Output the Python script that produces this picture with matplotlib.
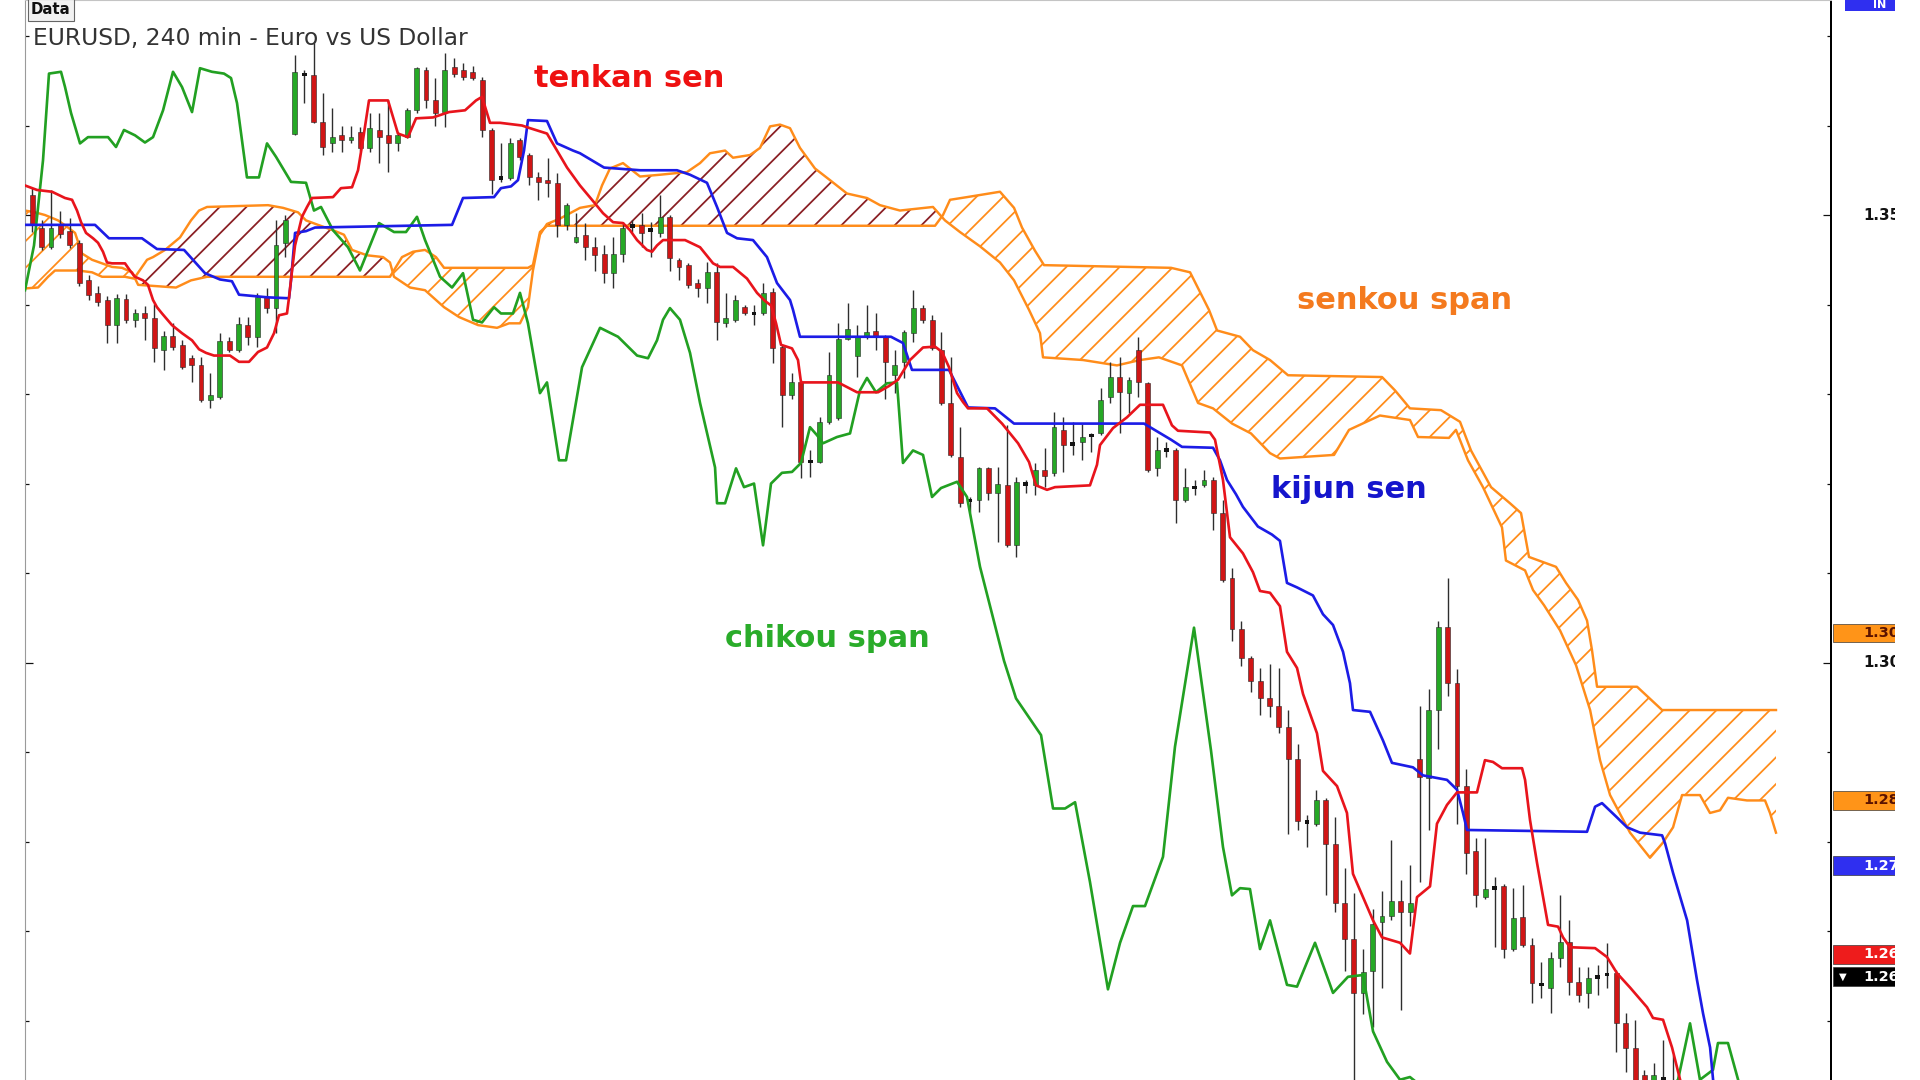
from __future__ import annotations

import matplotlib

matplotlib.use("Agg")
import matplotlib.pyplot as plt
import matplotlib.transforms as mtransforms
import numpy as np
from matplotlib.patches import Rectangle
from matplotlib.text import Text

TITLE = "EURUSD, 240 min - Euro vs US Dollar"

# candles, one per bar (bar index = position in list)
OPENS = [
    1.3522, 1.3485, 1.3464, 1.3489, 1.3482, 1.3469, 1.3427, 1.3413, 1.3405, 1.3377,
    1.3406, 1.3383, 1.3390, 1.3385, 1.3349, 1.3365, 1.3355, 1.3340, 1.3332, 1.3293,
    1.3297, 1.3359, 1.3349, 1.3377, 1.3364, 1.3408, 1.3396, 1.3469, 1.3591, 1.3658,
    1.3656, 1.3604, 1.3580, 1.3589, 1.3584, 1.3593, 1.3575, 1.3595, 1.3589, 1.3581,
    1.3587, 1.3617, 1.3662, 1.3628, 1.3615, 1.3665, 1.3662, 1.3660, 1.3651, 1.3595,
    1.3542, 1.3541, 1.3584, 1.3567, 1.3542, 1.3539, 1.3536, 1.3489, 1.3470, 1.3478,
    1.3464, 1.3457, 1.3435, 1.3457, 1.3489, 1.3489, 1.3484, 1.3480, 1.3498, 1.3450,
    1.3444, 1.3424, 1.3418, 1.3436, 1.3379, 1.3383, 1.3397, 1.3391, 1.3390, 1.3414,
    1.3352, 1.3299, 1.3313, 1.3225, 1.3224, 1.3269, 1.3273, 1.3362, 1.3343, 1.3364,
    1.3370, 1.3364, 1.3321, 1.3336, 1.3368, 1.3396, 1.3383, 1.3349, 1.3290, 1.3230,
    1.3182, 1.3182, 1.3217, 1.3189, 1.3198, 1.3131, 1.3200, 1.3198, 1.3215, 1.3212,
    1.3260, 1.3245, 1.3246, 1.3254, 1.3256, 1.3297, 1.3319, 1.3301, 1.3349, 1.3312,
    1.3217, 1.3238, 1.3237, 1.3182, 1.3196, 1.3198, 1.3204, 1.3167, 1.3094, 1.3037,
    1.3005, 1.2979, 1.2960, 1.2951, 1.2928, 1.2892, 1.2823, 1.2820, 1.2846, 1.2797,
    1.2731, 1.2691, 1.2631, 1.2656, 1.2710, 1.2717, 1.2734, 1.2721, 1.2892, 1.2871,
    1.2947, 1.3040, 1.2977, 1.2862, 1.2789, 1.2738, 1.2749, 1.2750, 1.2680, 1.2716,
    1.2684, 1.2641, 1.2636, 1.2670, 1.2688, 1.2643, 1.2631, 1.2649, 1.2652, 1.2653,
    1.2597, 1.2569, 1.2539, 1.2528, 1.2536, 1.2534,
]
HIGHS = [
    1.3530, 1.3494, 1.3528, 1.3505, 1.3497, 1.3472, 1.3433, 1.3421, 1.3409, 1.3412,
    1.3412, 1.3395, 1.3398, 1.3401, 1.3370, 1.3379, 1.3360, 1.3344, 1.3341, 1.3323,
    1.3368, 1.3364, 1.3386, 1.3386, 1.3413, 1.3418, 1.3494, 1.3500, 1.3679, 1.3662,
    1.3692, 1.3636, 1.3619, 1.3600, 1.3600, 1.3598, 1.3614, 1.3614, 1.3628, 1.3593,
    1.3620, 1.3665, 1.3665, 1.3653, 1.3681, 1.3675, 1.3670, 1.3667, 1.3654, 1.3597,
    1.3580, 1.3586, 1.3586, 1.3569, 1.3548, 1.3564, 1.3547, 1.3513, 1.3502, 1.3491,
    1.3475, 1.3466, 1.3475, 1.3492, 1.3494, 1.3502, 1.3492, 1.3522, 1.3500, 1.3452,
    1.3446, 1.3429, 1.3447, 1.3446, 1.3413, 1.3411, 1.3399, 1.3399, 1.3424, 1.3418,
    1.3355, 1.3324, 1.3316, 1.3237, 1.3274, 1.3347, 1.3379, 1.3402, 1.3377, 1.3399,
    1.3390, 1.3366, 1.3349, 1.3371, 1.3416, 1.3399, 1.3388, 1.3369, 1.3341, 1.3263,
    1.3185, 1.3219, 1.3219, 1.3218, 1.3265, 1.3207, 1.3204, 1.3223, 1.3240, 1.3280,
    1.3274, 1.3269, 1.3267, 1.3256, 1.3307, 1.3336, 1.3341, 1.3319, 1.3364, 1.3313,
    1.3252, 1.3246, 1.3240, 1.3217, 1.3204, 1.3215, 1.3207, 1.3182, 1.3106, 1.3047,
    1.3007, 1.2994, 1.2998, 1.2994, 1.2947, 1.2909, 1.2830, 1.2858, 1.2849, 1.2827,
    1.2771, 1.2743, 1.2680, 1.2725, 1.2745, 1.2802, 1.2757, 1.2774, 1.2951, 1.2970,
    1.3047, 1.3094, 1.2993, 1.2881, 1.2804, 1.2804, 1.2761, 1.2753, 1.2748, 1.2751,
    1.2692, 1.2665, 1.2677, 1.2740, 1.2712, 1.2660, 1.2660, 1.2662, 1.2687, 1.2657,
    1.2608, 1.2601, 1.2545, 1.2553, 1.2578, 1.2562,
]
LOWS = [
    1.3481, 1.3461, 1.3462, 1.3474, 1.3463, 1.3421, 1.3405, 1.3398, 1.3357, 1.3357,
    1.3379, 1.3375, 1.3360, 1.3336, 1.3327, 1.3349, 1.3328, 1.3313, 1.3291, 1.3284,
    1.3294, 1.3347, 1.3347, 1.3355, 1.3352, 1.3390, 1.3368, 1.3453, 1.3589, 1.3625,
    1.3603, 1.3567, 1.3570, 1.3570, 1.3581, 1.3572, 1.3570, 1.3558, 1.3548, 1.3572,
    1.3586, 1.3614, 1.3619, 1.3600, 1.3598, 1.3654, 1.3651, 1.3651, 1.3587, 1.3524,
    1.3537, 1.3539, 1.3561, 1.3533, 1.3517, 1.3520, 1.3475, 1.3483, 1.3469, 1.3450,
    1.3438, 1.3424, 1.3418, 1.3447, 1.3481, 1.3464, 1.3453, 1.3475, 1.3438, 1.3427,
    1.3419, 1.3408, 1.3402, 1.3360, 1.3375, 1.3380, 1.3388, 1.3377, 1.3388, 1.3335,
    1.3263, 1.3295, 1.3206, 1.3207, 1.3223, 1.3267, 1.3271, 1.3360, 1.3319, 1.3362,
    1.3349, 1.3295, 1.3301, 1.3318, 1.3358, 1.3379, 1.3349, 1.3288, 1.3230, 1.3174,
    1.3168, 1.3168, 1.3182, 1.3135, 1.3129, 1.3118, 1.3189, 1.3187, 1.3196, 1.3209,
    1.3213, 1.3232, 1.3226, 1.3235, 1.3254, 1.3290, 1.3257, 1.3279, 1.3297, 1.3213,
    1.3209, 1.3230, 1.3156, 1.3179, 1.3187, 1.3196, 1.3148, 1.3090, 1.3024, 1.2996,
    1.2967, 1.2941, 1.2939, 1.2921, 1.2808, 1.2813, 1.2794, 1.2817, 1.2740, 1.2721,
    1.2656, 1.2522, 1.2607, 1.2593, 1.2637, 1.2712, 1.2612, 1.2706, 1.2755, 1.2813,
    1.2904, 1.2963, 1.2820, 1.2764, 1.2727, 1.2736, 1.2682, 1.2670, 1.2678, 1.2682,
    1.2620, 1.2625, 1.2608, 1.2660, 1.2629, 1.2621, 1.2614, 1.2629, 1.2637, 1.2565,
    1.2543, 1.2517, 1.2511, 1.2511, 1.2511, 1.2500,
]
CLOSES = [
    1.3489, 1.3464, 1.3486, 1.3479, 1.3466, 1.3424, 1.3411, 1.3403, 1.3377, 1.3407,
    1.3383, 1.3390, 1.3385, 1.3351, 1.3365, 1.3352, 1.3330, 1.3333, 1.3293, 1.3299,
    1.3359, 1.3349, 1.3378, 1.3364, 1.3408, 1.3396, 1.3466, 1.3494, 1.3660, 1.3656,
    1.3604, 1.3576, 1.3587, 1.3584, 1.3587, 1.3575, 1.3597, 1.3587, 1.3581, 1.3589,
    1.3617, 1.3664, 1.3628, 1.3614, 1.3662, 1.3658, 1.3654, 1.3653, 1.3595, 1.3539,
    1.3541, 1.3580, 1.3565, 1.3542, 1.3537, 1.3536, 1.3489, 1.3511, 1.3475, 1.3464,
    1.3455, 1.3435, 1.3457, 1.3486, 1.3487, 1.3480, 1.3482, 1.3498, 1.3452, 1.3442,
    1.3422, 1.3418, 1.3436, 1.3380, 1.3385, 1.3405, 1.3390, 1.3389, 1.3413, 1.3351,
    1.3299, 1.3313, 1.3224, 1.3224, 1.3269, 1.3321, 1.3362, 1.3373, 1.3364, 1.3369,
    1.3364, 1.3336, 1.3332, 1.3369, 1.3396, 1.3383, 1.3351, 1.3290, 1.3232, 1.3178,
    1.3180, 1.3217, 1.3190, 1.3200, 1.3131, 1.3202, 1.3199, 1.3215, 1.3209, 1.3263,
    1.3243, 1.3244, 1.3252, 1.3253, 1.3293, 1.3319, 1.3302, 1.3316, 1.3313, 1.3215,
    1.3237, 1.3237, 1.3182, 1.3196, 1.3195, 1.3204, 1.3167, 1.3092, 1.3037, 1.3005,
    1.2979, 1.2960, 1.2951, 1.2928, 1.2892, 1.2823, 1.2821, 1.2846, 1.2797, 1.2731,
    1.2691, 1.2631, 1.2654, 1.2708, 1.2717, 1.2734, 1.2721, 1.2731, 1.2872, 1.2947,
    1.3040, 1.2977, 1.2862, 1.2787, 1.2740, 1.2747, 1.2748, 1.2680, 1.2715, 1.2684,
    1.2642, 1.2640, 1.2670, 1.2688, 1.2643, 1.2629, 1.2648, 1.2648, 1.2651, 1.2597,
    1.2570, 1.2528, 1.2520, 1.2539, 1.2534, 1.2511,
]

# indicator lines as (bar, price) vertices
TENKAN_SEN = [
    (-0.78, 1.3533), (0.50, 1.3528), (2.10, 1.3526), (3.49, 1.3519), (4.24, 1.3517),
    (4.77, 1.3505), (5.20, 1.3492), (5.73, 1.3480), (6.48, 1.3474), (7.01, 1.3469),
    (7.54, 1.3459), (7.97, 1.3447), (8.50, 1.3446), (9.89, 1.3446), (10.42, 1.3438),
    (10.96, 1.3431), (11.81, 1.3427), (12.34, 1.3422), (12.88, 1.3405), (13.30, 1.3397),
    (13.84, 1.3390), (14.90, 1.3377), (15.97, 1.3368), (17.04, 1.3360), (17.79, 1.3350),
    (18.53, 1.3346), (19.38, 1.3343), (21.09, 1.3343), (22.05, 1.3336), (23.12, 1.3336),
    (24.08, 1.3347), (25.04, 1.3352), (25.79, 1.3368), (26.32, 1.3388), (27.17, 1.3390),
    (27.39, 1.3408), (27.71, 1.3438), (28.03, 1.3466), (28.77, 1.3498), (29.31, 1.3509),
    (29.84, 1.3519), (32.08, 1.3520), (32.93, 1.3530), (34.11, 1.3531), (34.75, 1.3550),
    (35.28, 1.3584), (35.92, 1.3628), (37.95, 1.3628), (39.01, 1.3591), (40.08, 1.3587),
    (40.94, 1.3608), (42.75, 1.3609), (44.46, 1.3615), (46.17, 1.3617), (47.34, 1.3628),
    (47.98, 1.3632), (48.83, 1.3603), (49.90, 1.3603), (52.24, 1.3600), (53.10, 1.3597),
    (54.91, 1.3591), (55.76, 1.3576), (57.05, 1.3553), (58.43, 1.3533), (59.71, 1.3517),
    (60.89, 1.3502), (61.96, 1.3492), (63.02, 1.3491), (63.77, 1.3483), (64.52, 1.3472),
    (65.58, 1.3461), (66.12, 1.3459), (66.65, 1.3466), (67.29, 1.3472), (69.64, 1.3472),
    (71.24, 1.3464), (72.63, 1.3446), (73.37, 1.3442), (74.76, 1.3442), (76.25, 1.3429),
    (77.32, 1.3413), (78.17, 1.3404), (78.81, 1.3399), (79.35, 1.3379), (79.88, 1.3355),
    (81.05, 1.3351), (81.69, 1.3338), (82.01, 1.3313), (85.96, 1.3313), (87.99, 1.3302),
    (90.23, 1.3302), (91.40, 1.3309), (92.36, 1.3316), (93.64, 1.3338), (95.03, 1.3352),
    (96.31, 1.3353), (97.06, 1.3347), (97.80, 1.3330), (98.66, 1.3301), (99.30, 1.3291),
    (99.83, 1.3284), (101.86, 1.3284), (103.46, 1.3267), (105.17, 1.3245), (106.34, 1.3224),
    (107.09, 1.3198), (108.26, 1.3193), (109.11, 1.3196), (112.84, 1.3198), (113.59, 1.3221),
    (113.91, 1.3243), (115.30, 1.3262), (116.79, 1.3274), (118.18, 1.3288), (120.63, 1.3288),
    (121.59, 1.3265), (122.23, 1.3259), (125.64, 1.3257), (126.18, 1.3249), (127.03, 1.3204),
    (127.78, 1.3140), (129.16, 1.3122), (130.23, 1.3101), (130.98, 1.3080), (132.05, 1.3078),
    (133.11, 1.3063), (133.86, 1.3012), (134.93, 1.2994), (135.57, 1.2965), (137.06, 1.2921),
    (137.70, 1.2879), (139.20, 1.2862), (140.26, 1.2832), (140.90, 1.2764), (141.97, 1.2738),
    (143.04, 1.2712), (144.00, 1.2693), (145.92, 1.2687), (146.98, 1.2675), (147.73, 1.2738),
    (149.12, 1.2750), (149.86, 1.2820), (150.93, 1.2841), (152.00, 1.2855), (154.13, 1.2855),
    (154.98, 1.2891), (155.84, 1.2889), (156.80, 1.2882), (158.94, 1.2882), (159.26, 1.2869),
    (159.79, 1.2824), (160.54, 1.2776), (161.18, 1.2738), (161.71, 1.2707), (162.78, 1.2705),
    (163.31, 1.2693), (164.06, 1.2682), (166.73, 1.2681), (168.01, 1.2671), (169.07, 1.2653),
    (170.46, 1.2637), (172.27, 1.2615), (172.91, 1.2603), (173.98, 1.2601), (174.94, 1.2570),
    (175.79, 1.2534), (176.86, 1.2500),
]
KIJUN_SEN = [
    (-0.78, 1.3489), (6.69, 1.3489), (8.18, 1.3474), (11.70, 1.3474), (13.30, 1.3462),
    (16.19, 1.3461), (18.42, 1.3435), (20.02, 1.3428), (21.30, 1.3426), (22.05, 1.3411),
    (25.15, 1.3408), (27.39, 1.3407), (27.60, 1.3427), (28.03, 1.3480), (29.20, 1.3482),
    (30.16, 1.3486), (44.78, 1.3489), (45.95, 1.3519), (49.26, 1.3520), (50.00, 1.3530),
    (51.07, 1.3532), (51.82, 1.3539), (52.46, 1.3572), (52.88, 1.3606), (54.91, 1.3605),
    (55.98, 1.3580), (57.69, 1.3572), (58.43, 1.3569), (61.00, 1.3553), (64.84, 1.3550),
    (68.78, 1.3550), (70.17, 1.3545), (71.98, 1.3536), (73.05, 1.3509), (74.12, 1.3480),
    (75.19, 1.3474), (76.89, 1.3472), (78.38, 1.3453), (79.45, 1.3424), (80.84, 1.3405),
    (81.16, 1.3394), (81.90, 1.3364), (91.61, 1.3364), (92.89, 1.3357), (93.85, 1.3327),
    (97.80, 1.3327), (99.83, 1.3285), (102.71, 1.3284), (104.74, 1.3267), (118.61, 1.3267),
    (121.49, 1.3249), (122.66, 1.3241), (125.97, 1.3240), (126.71, 1.3226), (127.46, 1.3204),
    (128.42, 1.3188), (129.16, 1.3174), (130.76, 1.3152), (132.26, 1.3143), (133.11, 1.3136),
    (133.86, 1.3089), (134.93, 1.3084), (136.63, 1.3075), (137.70, 1.3054), (138.77, 1.3042),
    (139.84, 1.3012), (140.58, 1.2977), (140.90, 1.2947), (142.72, 1.2945), (144.10, 1.2913),
    (145.06, 1.2888), (147.30, 1.2883), (148.37, 1.2874), (150.93, 1.2869), (152.00, 1.2858),
    (152.64, 1.2832), (153.07, 1.2813), (165.87, 1.2811), (166.73, 1.2839), (167.47, 1.2843),
    (169.07, 1.2827), (170.14, 1.2816), (171.53, 1.2810), (173.88, 1.2807), (174.20, 1.2798),
    (175.05, 1.2765), (176.55, 1.2712), (177.61, 1.2645), (178.25, 1.2608), (179.00, 1.2570),
    (179.32, 1.2534), (179.64, 1.2511),
]
CHIKOU_SPAN = [
    (-0.78, 1.3416), (0.18, 1.3466), (1.14, 1.3561), (1.78, 1.3658), (3.06, 1.3660),
    (3.49, 1.3643), (4.13, 1.3614), (5.09, 1.3580), (5.94, 1.3587), (8.08, 1.3587),
    (8.93, 1.3576), (9.78, 1.3595), (10.96, 1.3589), (12.02, 1.3581), (12.88, 1.3587),
    (13.95, 1.3617), (15.01, 1.3660), (15.97, 1.3643), (17.04, 1.3615), (17.89, 1.3664),
    (19.17, 1.3660), (20.45, 1.3658), (21.20, 1.3653), (21.84, 1.3625), (22.90, 1.3542),
    (24.18, 1.3542), (25.04, 1.3580), (26.00, 1.3565), (27.60, 1.3537), (29.20, 1.3536),
    (30.05, 1.3505), (30.80, 1.3509), (32.08, 1.3483), (33.68, 1.3464), (34.96, 1.3438),
    (36.99, 1.3491), (38.59, 1.3481), (39.87, 1.3481), (41.04, 1.3498), (41.90, 1.3472),
    (43.50, 1.3431), (44.78, 1.3419), (45.95, 1.3435), (47.02, 1.3383), (47.98, 1.3380),
    (49.26, 1.3397), (50.00, 1.3390), (51.28, 1.3390), (52.03, 1.3413), (52.88, 1.3379),
    (54.16, 1.3301), (54.91, 1.3313), (56.19, 1.3226), (56.94, 1.3226), (58.65, 1.3330),
    (60.57, 1.3374), (62.49, 1.3364), (64.52, 1.3343), (65.69, 1.3340), (66.65, 1.3360),
    (67.29, 1.3383), (68.03, 1.3396), (69.10, 1.3383), (70.17, 1.3346), (71.24, 1.3290),
    (72.09, 1.3252), (72.84, 1.3218), (73.05, 1.3178), (73.91, 1.3178), (75.08, 1.3217),
    (75.93, 1.3196), (77.00, 1.3200), (77.96, 1.3131), (78.81, 1.3200), (79.98, 1.3212),
    (81.05, 1.3213), (82.01, 1.3223), (82.97, 1.3263), (83.72, 1.3254), (84.36, 1.3245),
    (85.85, 1.3252), (87.24, 1.3256), (88.30, 1.3304), (89.05, 1.3318), (90.01, 1.3302),
    (91.18, 1.3312), (92.25, 1.3313), (92.89, 1.3223), (93.96, 1.3237), (95.03, 1.3232),
    (95.99, 1.3185), (96.95, 1.3195), (98.66, 1.3202), (99.72, 1.3185), (101.11, 1.3107),
    (103.67, 1.3002), (104.95, 1.2960), (107.62, 1.2919), (108.90, 1.2837), (110.18, 1.2837),
    (111.25, 1.2844), (112.84, 1.2755), (114.76, 1.2635), (116.05, 1.2687), (117.43, 1.2728),
    (118.71, 1.2728), (120.63, 1.2783), (121.91, 1.2906), (123.94, 1.3039), (125.75, 1.2902),
    (127.03, 1.2794), (127.99, 1.2740), (128.85, 1.2748), (129.91, 1.2747), (130.98, 1.2680),
    (132.05, 1.2712), (133.86, 1.2640), (134.93, 1.2638), (136.85, 1.2687), (138.77, 1.2631),
    (140.37, 1.2649), (141.97, 1.2651), (143.04, 1.2588), (144.53, 1.2554), (145.92, 1.2534),
    (146.98, 1.2537), (148.05, 1.2528), (151.25, 1.2500), (161.92, 1.2489), (172.59, 1.2500),
    (175.58, 1.2534), (176.86, 1.2597), (177.92, 1.2534), (179.31, 1.2545), (179.84, 1.2575),
    (180.91, 1.2575), (181.98, 1.2534), (182.72, 1.2511),
]
SENKOU_A = [
    (-0.78, 1.3418), (0.61, 1.3419), (1.68, 1.3431), (2.42, 1.3438), (4.88, 1.3438),
    (6.37, 1.3436), (7.44, 1.3431), (9.89, 1.3431), (10.85, 1.3429), (12.24, 1.3450),
    (12.88, 1.3453), (14.16, 1.3461), (15.76, 1.3475), (16.93, 1.3494), (17.79, 1.3505),
    (18.64, 1.3509), (25.15, 1.3511), (26.75, 1.3508), (28.35, 1.3503), (29.20, 1.3494),
    (30.48, 1.3489), (32.08, 1.3483), (33.25, 1.3478), (34.11, 1.3461), (35.71, 1.3455),
    (37.42, 1.3453), (38.16, 1.3447), (38.59, 1.3431), (40.30, 1.3419), (41.90, 1.3416),
    (43.93, 1.3397), (45.53, 1.3386), (47.56, 1.3377), (49.58, 1.3374), (50.86, 1.3379),
    (52.03, 1.3379), (52.88, 1.3397), (53.41, 1.3438), (54.16, 1.3478), (54.91, 1.3490),
    (56.30, 1.3496), (58.43, 1.3508), (60.03, 1.3511), (60.78, 1.3533), (61.63, 1.3552),
    (63.02, 1.3558), (64.84, 1.3543), (66.97, 1.3545), (69.85, 1.3548), (71.24, 1.3558),
    (72.30, 1.3569), (73.91, 1.3572), (74.76, 1.3564), (76.57, 1.3567), (77.64, 1.3575),
    (78.71, 1.3599), (79.77, 1.3601), (80.84, 1.3597), (81.90, 1.3575), (83.50, 1.3552),
    (85.10, 1.3539), (86.92, 1.3524), (89.05, 1.3519), (90.44, 1.3511), (92.57, 1.3505),
    (96.09, 1.3509), (97.37, 1.3494), (98.97, 1.3481), (101.11, 1.3465), (103.24, 1.3447),
    (104.74, 1.3427), (106.34, 1.3394), (107.51, 1.3368), (107.83, 1.3341), (112.10, 1.3338),
    (115.72, 1.3332), (118.18, 1.3338), (120.20, 1.3341), (122.66, 1.3332), (124.37, 1.3290),
    (125.97, 1.3284), (128.00, 1.3267), (130.02, 1.3256), (132.05, 1.3234), (133.11, 1.3228),
    (138.88, 1.3232), (140.48, 1.3260), (143.78, 1.3276), (146.98, 1.3271), (147.84, 1.3252),
    (151.14, 1.3251), (151.89, 1.3260), (153.17, 1.3226), (154.77, 1.3196), (156.80, 1.3151),
    (157.22, 1.3114), (159.26, 1.3103), (160.11, 1.3081), (161.29, 1.3064), (162.99, 1.3036),
    (164.70, 1.2997), (166.20, 1.2947), (167.26, 1.2891), (168.33, 1.2852), (170.46, 1.2810),
    (172.59, 1.2782), (173.98, 1.2799), (175.05, 1.2816), (176.01, 1.2852), (177.92, 1.2852),
    (178.99, 1.2832), (180.06, 1.2835), (180.91, 1.2849), (182.94, 1.2846), (184.86, 1.2846),
    (185.39, 1.2832), (186.03, 1.2810),
]
SENKOU_B = [
    (-0.78, 1.3505), (0.29, 1.3503), (1.35, 1.3500), (2.74, 1.3494), (3.81, 1.3486),
    (4.56, 1.3480), (5.30, 1.3457), (6.37, 1.3450), (7.44, 1.3446), (8.50, 1.3442),
    (9.57, 1.3441), (10.64, 1.3436), (11.29, 1.3422), (15.33, 1.3419), (16.93, 1.3427),
    (18.64, 1.3431), (38.16, 1.3431), (39.44, 1.3453), (40.62, 1.3459), (41.90, 1.3461),
    (43.07, 1.3453), (43.93, 1.3441), (52.88, 1.3441), (53.41, 1.3444), (54.16, 1.3481),
    (54.91, 1.3488), (96.31, 1.3488), (97.16, 1.3500), (97.91, 1.3517), (99.72, 1.3520),
    (103.24, 1.3526), (104.74, 1.3508), (105.59, 1.3486), (106.98, 1.3460), (107.94, 1.3444),
    (121.49, 1.3441), (123.52, 1.3436), (125.54, 1.3394), (126.40, 1.3371), (128.85, 1.3364),
    (130.23, 1.3349), (132.05, 1.3338), (133.97, 1.3321), (144.00, 1.3319), (145.39, 1.3304),
    (146.98, 1.3284), (150.29, 1.3282), (152.32, 1.3269), (153.49, 1.3237), (155.63, 1.3196),
    (157.65, 1.3178), (158.83, 1.3167), (159.68, 1.3118), (162.56, 1.3107), (163.63, 1.3089),
    (164.91, 1.3070), (165.87, 1.3047), (166.40, 1.3014), (166.94, 1.2973), (171.21, 1.2973),
    (173.88, 1.2947), (186.03, 1.2947),
]

MAJOR_TICKS = [1.30, 1.35]
MAJOR_LABELS = ["1.3000", "1.3500"]
MINOR_TICKS = [1.26, 1.27, 1.28, 1.29, 1.31, 1.32, 1.33, 1.34, 1.36, 1.37]

PRICE_TAGS = [1.3033, 1.2846, 1.2773, 1.2674, 1.2649]
PRICE_TAG_TEXT = ["1.3033", "1.2846", "1.2773", "1.2674", "1.2649"]
PRICE_TAG_FACE = ["#ff9418", "#ff9418", "#2f2ff0", "#ee1c1c", "#000000"]
PRICE_TAG_INK = ["#5a1200", "#5a1200", "#ffffff", "#ffffff", "#ffffff"]

LINE_LABELS = ["tenkan sen", "senkou span", "kijun sen", "chikou span"]
LINE_LABEL_BAR = [63.66, 146.44, 140.48, 84.78]
LINE_LABEL_PRICE = [1.3652, 1.3405, 1.3193, 1.3027]
LINE_LABEL_COLOR = ["#ee1111", "#f47a1e", "#1515cc", "#2aac2a"]

RED = "#e8141c"
BLUE = "#1c1ce6"
GREEN = "#22a022"
ORANGE = "#ff8c1a"
MAROON = "#8a1f24"
UP = "#25a825"
DOWN = "#d01515"
WICK = "#2e2e2e"

X_RANGE = (-0.78, 191.9)
Y_RANGE = (1.25337, 1.37402)

# the price scale strip is cut off at this pixel column in the screenshot
SCALE_CLIP = mtransforms.Bbox.from_extents(1832, 0, 1895, 1080)


def _draw_candles(ax) -> None:
    o = np.array(OPENS)
    h = np.array(HIGHS)
    low = np.array(LOWS)
    c = np.array(CLOSES)
    bars = np.arange(len(o))
    ax.vlines(bars, low, h, color=WICK, linewidth=1.25, zorder=3)

    doji = np.abs(c - o) < 0.00025
    for mask, col in (((c > o) & ~doji, UP), ((c < o) & ~doji, DOWN)):
        bottom = np.minimum(o, c)[mask]
        height = np.maximum(np.abs(c - o)[mask], 0.0003)
        ax.bar(bars[mask], height, bottom=bottom, width=0.52, color=col,
               edgecolor="#262626", linewidth=0.5, zorder=3.5)
    mid = ((o + c) / 2.0)[doji]
    ax.bar(bars[doji], 0.0004, bottom=mid - 0.0002, width=0.52, color="#141414",
           linewidth=0, zorder=3.5)


def _draw_cloud(ax) -> None:
    a_x, a_y = np.array(SENKOU_A).T
    b_x, b_y = np.array(SENKOU_B).T
    grid = np.union1d(a_x, b_x)
    a = np.interp(grid, a_x, a_y)
    b = np.interp(grid, b_x, b_y)
    ax.fill_between(grid, a, b, where=a >= b, interpolate=True, facecolor="none",
                    edgecolor=MAROON, hatch="/", linewidth=0, zorder=1)
    ax.fill_between(grid, a, b, where=a < b, interpolate=True, facecolor="none",
                    edgecolor=ORANGE, hatch="/", linewidth=0, zorder=1)
    ax.plot(a_x, a_y, color=ORANGE, linewidth=2.2, zorder=2)
    ax.plot(b_x, b_y, color=ORANGE, linewidth=2.2, zorder=2)


def _draw_line(ax, pts, color) -> None:
    x, y = np.array(pts).T
    ax.plot(x, y, color=color, linewidth=2.4, solid_joinstyle="round", zorder=4)


def _scale_artist(fig, artist) -> None:
    artist.set_clip_box(SCALE_CLIP)
    artist.set_clip_on(True)
    fig.add_artist(artist)


def _draw_price_scale(fig, ax) -> None:
    trans = mtransforms.blended_transform_factory(ax.transAxes, ax.transData)
    for price, txt in zip(MAJOR_TICKS, MAJOR_LABELS):
        _scale_artist(fig, Text(1.0177, price, txt, transform=trans, color="#111111",
                                fontsize=13.5, fontweight="bold", ha="left", va="center"))

    box_h = 0.0021
    for price, txt, face, ink in zip(PRICE_TAGS, PRICE_TAG_TEXT, PRICE_TAG_FACE, PRICE_TAG_INK):
        _scale_artist(fig, Rectangle((1.0012, price - box_h / 2), 0.06, box_h, transform=trans,
                                     facecolor=face, edgecolor="#333333", linewidth=0.6))
        _scale_artist(fig, Text(1.0177, price, txt, transform=trans, color=ink, fontsize=13,
                                fontweight="bold", ha="left", va="center"))
    _scale_artist(fig, Text(1.0045, PRICE_TAGS[-1], "\u25bc", transform=trans, color="#ffffff",
                            fontsize=9, ha="left", va="center"))

    # cut-off tag at the very top of the scale
    _scale_artist(fig, Rectangle((1.008, 0.990), 0.06, 0.012, transform=ax.transAxes,
                                 facecolor="#2f2ff0", edgecolor="none"))
    _scale_artist(fig, Text(1.0235, 0.9955, "IN", transform=ax.transAxes, color="#ffffff",
                            fontsize=10, fontweight="bold", ha="left", va="center"))


def render(output_path: str) -> None:
    plt.rcParams["hatch.linewidth"] = 1.6
    fig = plt.figure(figsize=(24, 13.5), dpi=80)
    fig.patch.set_facecolor("white")
    ax = fig.add_axes([25 / 1920, 0.0, 1806 / 1920, 1.0])
    ax.set_facecolor("white")

    _draw_cloud(ax)
    _draw_line(ax, CHIKOU_SPAN, GREEN)
    _draw_candles(ax)
    _draw_line(ax, KIJUN_SEN, BLUE)
    _draw_line(ax, TENKAN_SEN, RED)

    ax.set_xlim(*X_RANGE)
    ax.set_ylim(*Y_RANGE)
    ax.set_xticks([])
    ax.yaxis.set_ticks_position("both")
    ax.set_yticks(MAJOR_TICKS)
    ax.set_yticks(MINOR_TICKS, minor=True)
    ax.tick_params(axis="y", which="both", direction="in", labelleft=False, labelright=False,
                   color="#111111", width=1.1)
    ax.tick_params(axis="y", which="major", length=7)
    ax.tick_params(axis="y", which="minor", length=4)

    ax.spines["bottom"].set_visible(False)
    ax.spines["left"].set_color("#9a9a9a")
    ax.spines["left"].set_linewidth(1.0)
    ax.spines["top"].set_color("#c4c4c4")
    ax.spines["top"].set_linewidth(1.0)
    ax.spines["right"].set_color("#000000")
    ax.spines["right"].set_linewidth(1.8)

    for txt, bar, price, col in zip(LINE_LABELS, LINE_LABEL_BAR, LINE_LABEL_PRICE, LINE_LABEL_COLOR):
        ax.text(bar, price, txt, color=col, fontsize=27.5, fontweight="bold",
                ha="center", va="center", zorder=8)

    _draw_price_scale(fig, ax)

    fig.text(33 / 1920, 1 - 38 / 1080, TITLE, fontsize=21, color="#333333",
             ha="left", va="center")
    fig.text(31 / 1920, 1 - 10 / 1080, "Data", fontsize=13.5, fontweight="bold", color="#111111",
             ha="left", va="center",
             bbox=dict(boxstyle="square,pad=0.22", facecolor="#f2f2f2", edgecolor="#666666",
                       linewidth=1.0))

    fig.savefig(output_path, dpi=80, facecolor=fig.get_facecolor())
    plt.close(fig)


def main() -> None:
    render("out.png")


if __name__ == "__main__":
    main()
